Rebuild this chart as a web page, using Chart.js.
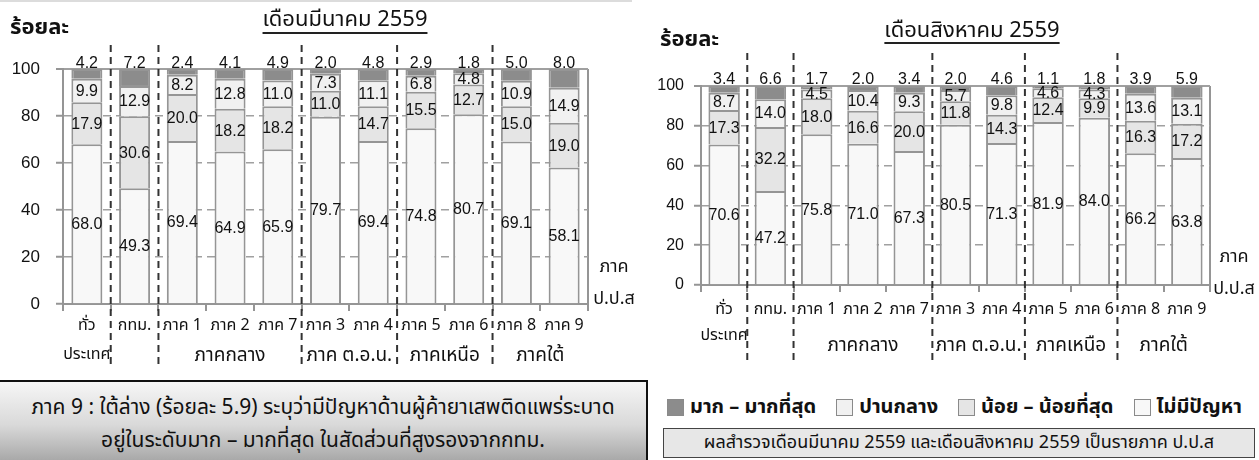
<!DOCTYPE html>
<html lang="th">
<head>
<meta charset="UTF-8" />
<title>ปัญหาผู้ค้ายาเสพติด 2559</title>
<script src="https://cdn.jsdelivr.net/npm/chart.js"></script>
<style>
  body { margin:0; width:1259px; height:460px; position:relative; overflow:hidden; background:#fff;
         font-family: Tahoma, "Noto Sans Thai", "Noto Sans", "DejaVu Sans", sans-serif; color:#111; }
  .linha_topo { position:absolute; left:0; top:0; width:632px; height:2px; background:#dcdcdc; }
  #g_marco { position:absolute; left:0; top:0; }
  #g_agosto { position:absolute; left:655px; top:0; }
  .caixa_nota { position:absolute; left:0; top:380px; width:648px; height:80px; box-sizing:border-box;
                border-top:2px solid #111; border-right:2px solid #111;
                background:linear-gradient(to bottom, #f6f6f6 0%, #d9d9d9 55%, #a9a9a9 100%);
                text-align:center; font-size:21px; line-height:33px; padding-top:9px; }
  .legenda { position:absolute; left:667px; top:394px; height:26px; display:flex; gap:20px;
             align-items:center; font-size:20px; font-weight:bold; white-space:nowrap; }
  .legenda .item { display:flex; align-items:center; flex:none; }
  .legenda .quad { width:17px; height:17px; border:1.5px solid #8a8a8a; margin-right:6px; box-sizing:border-box; }
  .caixa_fonte { position:absolute; left:663px; top:428px; width:592px; height:30px; box-sizing:border-box;
                 border:1.5px solid #444; background:#e7e7e7; text-align:center; font-size:18px; line-height:27px; }
</style>
</head>
<body>
  <div class="linha_topo"></div>
  <canvas id="g_marco" width="650" height="380"></canvas>
  <canvas id="g_agosto" width="604" height="390"></canvas>

  <div class="caixa_nota">
    ภาค 9 : ใต้ล่าง (ร้อยละ 5.9) ระบุว่ามีปัญหาด้านผู้ค้ายาเสพติดแพร่ระบาด<br>
    อยู่ในระดับมาก – มากที่สุด ในสัดส่วนที่สูงรองจากกทม.
  </div>
  <div class="legenda" id="legenda"></div>
  <div class="caixa_fonte">ผลสำรวจเดือนมีนาคม 2559 และเดือนสิงหาคม 2559 เป็นรายภาค ป.ป.ส</div>

<script>
// categorias e grupos
const categorias = [['ทั่ว', 'ประเทศ'], 'กทม.', 'ภาค 1', 'ภาค 2', 'ภาค 7', 'ภาค 3', 'ภาค 4', 'ภาค 5', 'ภาค 6', 'ภาค 8', 'ภาค 9'];
const grupos = ['ภาคกลาง', 'ภาค ต.อ.น.', 'ภาคเหนือ', 'ภาคใต้'];
const grupoInicio = [2, 5, 7, 9];
const grupoFim = [4, 6, 8, 10];
const divisorias = [1, 2, 5, 7, 9];   // linha tracejada antes dessa categoria
const yTicks = [0, 20, 40, 60, 80, 100];

// series (de baixo pra cima na pilha)
const series = ['ไม่มีปัญหา', 'น้อย – น้อยที่สุด', 'ปานกลาง', 'มาก – มากที่สุด'];
const cores = ['#f8f8f8', '#e5e5e5', '#f1f1f1', '#8c8c8c'];

// มีนาคม 2559
const mar_nenhum = [68.0, 49.3, 69.4, 64.9, 65.9, 79.7, 69.4, 74.8, 80.7, 69.1, 58.1];
const mar_pouco = [17.9, 30.6, 20.0, 18.2, 18.2, 11.0, 14.7, 15.5, 12.7, 15.0, 19.0];
const mar_medio = [9.9, 12.9, 8.2, 12.8, 11.0, 7.3, 11.1, 6.8, 4.8, 10.9, 14.9];
const mar_muito = [4.2, 7.2, 2.4, 4.1, 4.9, 2.0, 4.8, 2.9, 1.8, 5.0, 8.0];

// สิงหาคม 2559
const ago_nenhum = [70.6, 47.2, 75.8, 71.0, 67.3, 80.5, 71.3, 81.9, 84.0, 66.2, 63.8];
const ago_pouco = [17.3, 32.2, 18.0, 16.6, 20.0, 11.8, 14.3, 12.4, 9.9, 16.3, 17.2];
const ago_medio = [8.7, 14.0, 4.5, 10.4, 9.3, 5.7, 9.8, 4.6, 4.3, 13.6, 13.1];
const ago_muito = [3.4, 6.6, 1.7, 2.0, 3.4, 2.0, 4.6, 1.1, 1.8, 3.9, 5.9];

const fonteThai = 'Tahoma, "Noto Sans Thai", "Noto Sans", "DejaVu Sans", sans-serif';
const fonteNum = '"Liberation Sans", Arial, sans-serif';

// rotulos, titulo, divisorias e nomes dos grupos
const pluginExtra = {
  id: 'extra',
  afterDatasetsDraw(chart, args, o) {
    const ctx = chart.ctx;
    const area = chart.chartArea;
    const x = chart.scales.x;
    const n = chart.data.datasets.length;

    ctx.save();
    ctx.font = o.tamNum + 'px ' + fonteNum;
    ctx.fillStyle = '#111';
    ctx.textAlign = 'center';
    chart.data.datasets.forEach((ds, i) => {
      chart.getDatasetMeta(i).data.forEach((bar, j) => {
        const txt = ds.data[j].toFixed(1);
        if (i === n - 1) {
          ctx.textBaseline = 'alphabetic';
          ctx.fillText(txt, bar.x, bar.y - o.folgaTopo);
        } else {
          ctx.textBaseline = 'middle';
          ctx.fillText(txt, bar.x, (bar.y + bar.base) / 2 + 1);
        }
      });
    });

    // divisorias tracejadas
    ctx.strokeStyle = '#333';
    ctx.lineWidth = 2;
    ctx.setLineDash([7, 5]);
    divisorias.forEach(k => {
      const px = (x.getPixelForValue(k - 1) + x.getPixelForValue(k)) / 2;
      ctx.beginPath();
      ctx.moveTo(px, area.top - o.sepCima);
      ctx.lineTo(px, area.bottom + o.sepBaixo);
      ctx.stroke();
    });
    ctx.setLineDash([]);

    // grupos
    ctx.font = '19px ' + fonteThai;
    ctx.textBaseline = 'middle';
    grupos.forEach((g, k) => {
      const px = (x.getPixelForValue(grupoInicio[k]) + x.getPixelForValue(grupoFim[k])) / 2;
      ctx.fillText(g, px, area.bottom + o.grupoY);
    });

    // ภาค ป.ป.ส
    ctx.font = '18px ' + fonteThai;
    ctx.fillText('ภาค', area.right + o.ppsX, area.bottom + o.ppsY1);
    ctx.fillText('ป.ป.ส', area.right + o.ppsX, area.bottom + o.ppsY2);

    // ร้อยละ
    ctx.textAlign = 'left';
    ctx.font = 'bold 22px ' + fonteThai;
    ctx.fillText('ร้อยละ', o.eixoX, o.eixoY);

    // titulo sublinhado
    ctx.textAlign = 'center';
    ctx.font = '22px ' + fonteThai;
    ctx.fillText(o.titulo, o.tituloX, o.tituloY);
    const w = ctx.measureText(o.titulo).width;
    ctx.lineWidth = 2;
    ctx.strokeStyle = '#222';
    ctx.beginPath();
    ctx.moveTo(o.tituloX - w / 2, o.tituloY + o.subY);
    ctx.lineTo(o.tituloX + w / 2, o.tituloY + o.subY);
    ctx.stroke();
    ctx.restore();
  }
};

function montaGrafico(id, dados, cfg) {
  return new Chart(document.getElementById(id), {
    type: 'bar',
    data: {
      labels: categorias,
      datasets: dados.map((d, i) => ({
        label: series[i],
        data: d,
        backgroundColor: cores[i],
        borderColor: '#959595',
        borderWidth: 2,
        barPercentage: 1,
        categoryPercentage: cfg.catPct
      }))
    },
    options: {
      responsive: false,
      animation: false,
      layout: { padding: { top: cfg.topo, right: cfg.direita, left: 0, bottom: 0 } },
      plugins: {
        legend: { display: false },
        tooltip: { enabled: false },
        extra: cfg.extra
      },
      scales: {
        x: {
          stacked: true,
          grid: {
            offset: true,
            color: c => (c.type !== 'tick' || c.index === 0) ? '#959595' : 'transparent',
            lineWidth: 2,
            tickColor: '#959595',
            tickLength: 7,
            tickWidth: 2
          },
          border: { color: '#959595', width: 2 },
          ticks: {
            color: '#111',
            padding: cfg.padX,
            maxRotation: 0,
            autoSkip: false,
            font: { family: fonteThai, size: 16, lineHeight: cfg.alturaLinha }
          },
          afterFit: s => { s.height = cfg.alturaX; }
        },
        y: {
          stacked: true,
          min: 0,
          max: 100,
          afterBuildTicks: s => { s.ticks = yTicks.map(v => ({ value: v })); },
          grid: {
            color: '#a0a0a0',
            lineWidth: c => (c.tick && (c.tick.value === 100)) ? 2 : 1.5,
            tickColor: '#959595',
            tickLength: 7,
            tickWidth: 2
          },
          border: {
            color: '#959595',
            width: 2,
            dash: c => (c.type === 'tick' && c.tick.value > 0 && c.tick.value < 100) ? [8, 5] : []
          },
          ticks: {
            color: '#111',
            padding: cfg.padY,
            font: { family: fonteNum, size: cfg.tamY }
          },
          afterFit: s => { s.width = cfg.larguraY; }
        }
      }
    },
    plugins: [pluginExtra]
  });
}

montaGrafico('g_marco', [mar_nenhum, mar_pouco, mar_medio, mar_muito], {
  catPct: 0.65, topo: 69, direita: 62, larguraY: 63, alturaX: 76, padX: 1, padY: 16, tamY: 17,
  alturaLinha: '29px',
  extra: {
    titulo: 'เดือนมีนาคม 2559', tituloX: 345, tituloY: 22, subY: 11,
    eixoX: 10, eixoY: 30, tamNum: 16, folgaTopo: 1,
    sepCima: 24, sepBaixo: 63, grupoY: 53, ppsX: 26, ppsY1: -36, ppsY2: -4
  }
});

montaGrafico('g_agosto', [ago_nenhum, ago_pouco, ago_medio, ago_muito], {
  catPct: 0.68, topo: 86, direita: 49, larguraY: 46, alturaX: 105, padX: 6, padY: 10, tamY: 16,
  alturaLinha: '26px',
  extra: {
    titulo: 'เดือนสิงหาคม 2559', tituloX: 317, tituloY: 33, subY: 10,
    eixoX: 5, eixoY: 42, tamNum: 16, folgaTopo: 2,
    sepCima: 33, sepBaixo: 75, grupoY: 62, ppsX: 24, ppsY1: -27, ppsY2: 5
  }
});

// legenda html (ordem invertida, igual a imagem)
const leg = document.getElementById('legenda');
for (let i = series.length - 1; i >= 0; i--) {
  const item = document.createElement('div');
  item.className = 'item';
  item.innerHTML = '<span class="quad" style="background:' + cores[i] + '"></span>' + series[i];
  leg.appendChild(item);
}
</script>
</body>
</html>
